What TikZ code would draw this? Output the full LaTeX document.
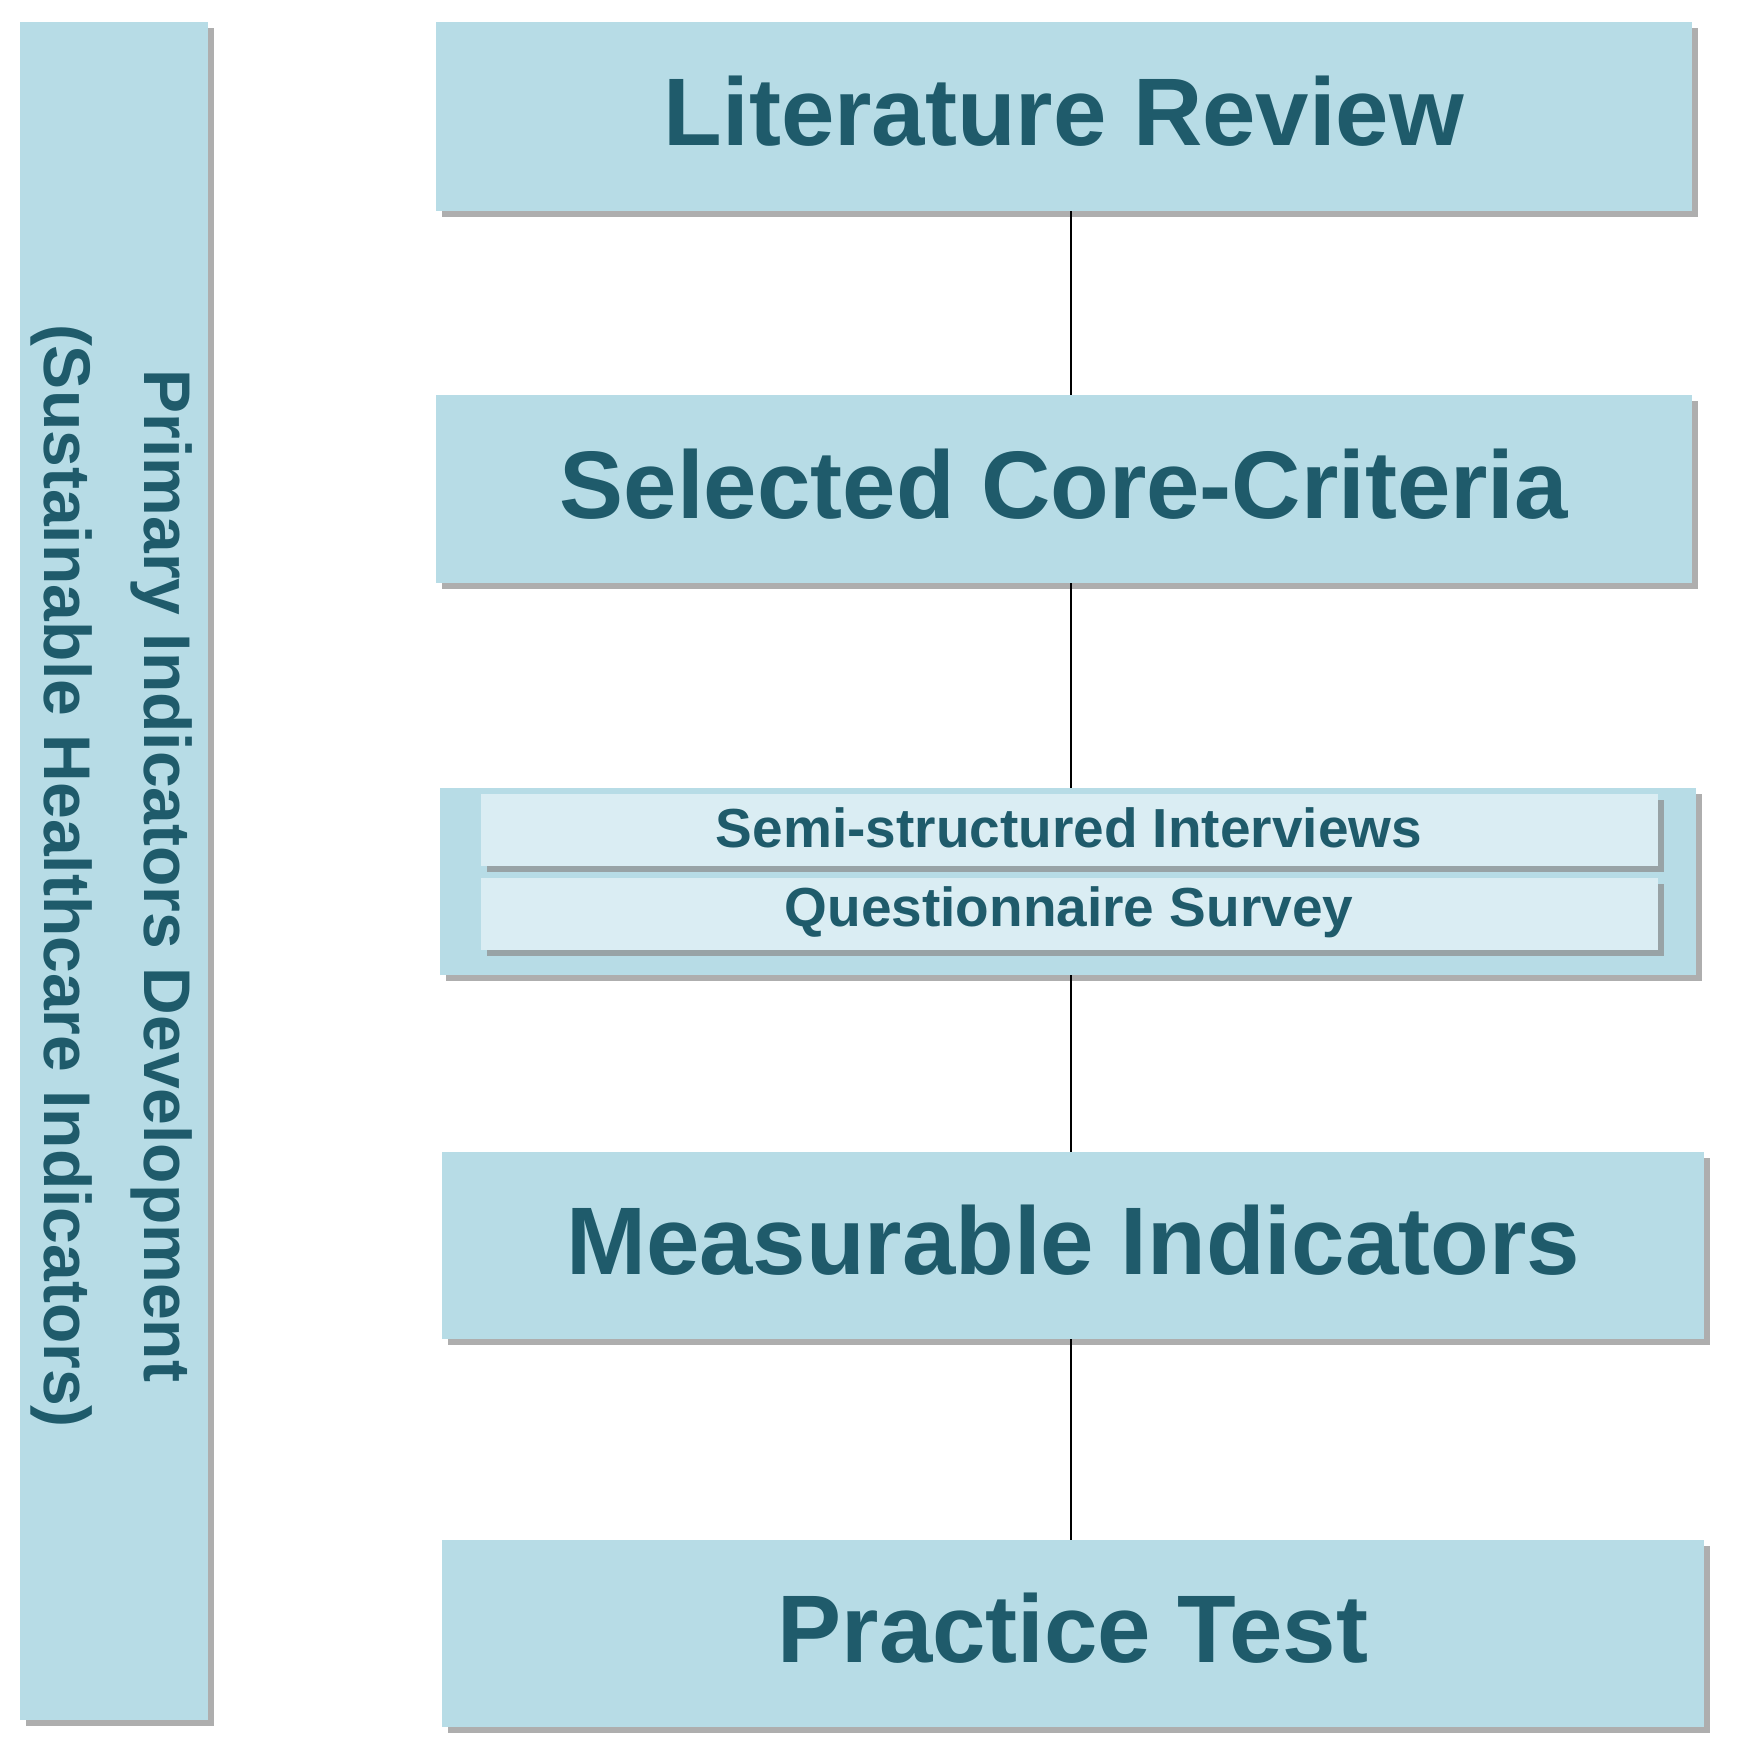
\documentclass[tikz,border=0pt]{standalone}
\usepackage{fontspec}
\setmainfont{Liberation Sans}
\usetikzlibrary{shadows}
\definecolor{boxfill}{HTML}{B7DCE6}
\definecolor{innerfill}{HTML}{DAEDF3}
\definecolor{txt}{HTML}{1F5B6B}
\tikzset{
 x=1pt,y=1pt,
 shad/.style={drop shadow={shadow xshift=6pt,shadow yshift=-6pt,fill=black!45,opacity=0.7}},
 bigbox/.style={fill=boxfill,draw=none,shad},
 innerbox/.style={fill=innerfill,draw=none,shad},
 bigtxt/.style={font=\fontsize{96}{110}\bfseries\selectfont,text=txt},
 smalltxt/.style={font=\fontsize{55}{60}\bfseries\selectfont,text=txt},
}
\begin{document}
\begin{tikzpicture}
\useasboundingbox (0,0) rectangle (1742,-1761);
\path[bigbox] (20,-22) rectangle (208,-1720);
\node[font=\fontsize{66}{100}\bfseries\selectfont,text=txt,rotate=-90,align=center] (side) at (112,-876) {Primary Indicators Development\\(Sustainable Healthcare Indicators)};
\path[bigbox] (436,-22) rectangle (1692,-211);
\node[bigtxt] (lit) at (1064,-111) {Literature Review};
\path[bigbox] (436,-395) rectangle (1692,-583);
\node[bigtxt] (sel) at (1064,-484) {Selected Core-Criteria};
\path[bigbox] (440,-788) rectangle (1696,-975);
\path[innerbox] (481,-794) rectangle (1658,-866);
\node[smalltxt] (semi) at (1069,-828) {Semi-structured Interviews};
\path[innerbox] (481,-878) rectangle (1658,-950);
\node[smalltxt] (quest) at (1069,-912) {Questionnaire Survey};
\path[bigbox] (442,-1152) rectangle (1704,-1339);
\node[bigtxt] (meas) at (1073,-1240) {Measurable Indicators};
\path[bigbox] (442,-1540) rectangle (1704,-1727);
\node[bigtxt] (prac) at (1073,-1628) {Practice Test};
\coordinate (a1) at (1071,-211); \coordinate (a2) at (1071,-395);
\coordinate (b1) at (1071,-583); \coordinate (b2) at (1071,-788);
\coordinate (c1) at (1071,-975); \coordinate (c2) at (1071,-1152);
\coordinate (d1) at (1071,-1339); \coordinate (d2) at (1071,-1540);
\draw[line width=2pt] (a1)--(a2) (b1)--(b2) (c1)--(c2) (d1)--(d2);
\end{tikzpicture}
\end{document}
